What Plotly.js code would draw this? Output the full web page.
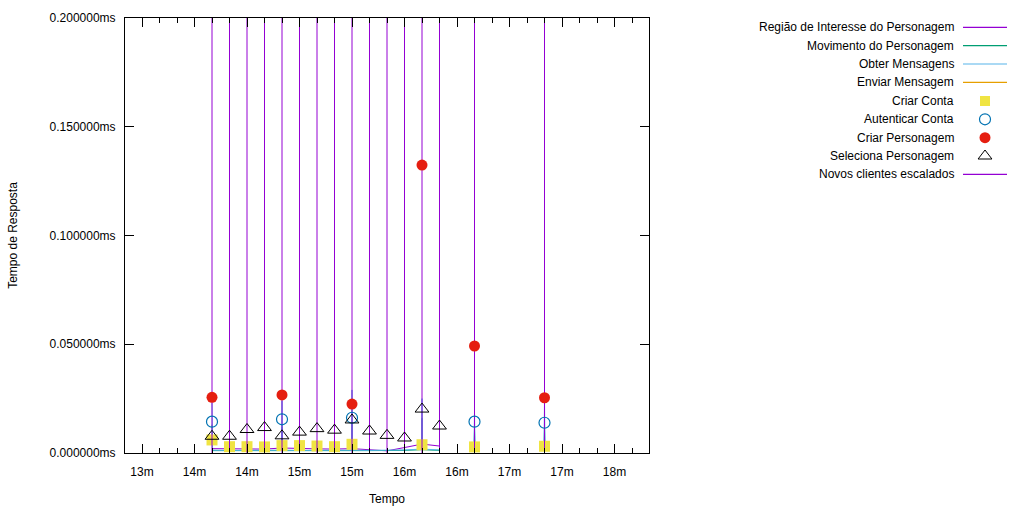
<!DOCTYPE html>
<html>
<head>
<meta charset="utf-8">
<script src="https://cdn.plot.ly/plotly-3.0.1.min.js"></script>
<style>html,body{margin:0;padding:0;background:#fff;}#chart{width:1024px;height:512px;}</style>
</head>
<body>
<div id="chart"></div>
<script>
// ---- Data (time in seconds after the "13m" tick; response time in ms) ----
const xTickVals = [0, 30, 60, 90, 120, 150, 180, 210, 240, 270];
const xTickText = ["13m", "14m", "14m", "15m", "15m", "16m", "16m", "17m", "17m", "18m"];
const yTickVals = [0, 0.05, 0.1, 0.15, 0.2];

const regiaoT = [40, 50, 60, 70, 80, 90, 100, 110, 120, 130, 140, 150, 160, 170];
const regiaoV = [0.0020, 0.0019, 0.0019, 0.0018, 0.0023, 0.0020, 0.0019, 0.0018, 0.0020, 0.0015, 0.0010, 0.0025, 0.0041, 0.0032];

const movimentoT = [40, 40.3, 50, 60, 70, 79.7, 80, 80.3, 90, 100, 110, 119.7, 120, 120.3, 130, 140, 150, 159.7, 160, 160.3, 170, null, 189.7, 190, 190.3, null, 229.7, 230, 230.3];
const movimentoV = [0.0130, 0.0011, 0.0011, 0.0011, 0.0011, 0.0011, 0.0120, 0.0011, 0.0011, 0.0011, 0.0011, 0.0011, 0.0140, 0.0011, 0.0011, 0.0011, 0.0012, 0.0015, 0.0160, 0.0015, 0.0012, null, 0.0010, 0.0110, 0.0010, null, 0.0010, 0.0120, 0.0010];

const obterT = [40, 40.3, 50, 60, 70, 79.7, 80, 80.3, 90, 100, 110, 119.7, 120, 120.3, 130, 140, 150, 159.7, 160, 160.3, 170, null, 189.7, 190, 190.3, null, 229.7, 230, 230.3];
const obterV = [0.0230, 0.0013, 0.0012, 0.0012, 0.0012, 0.0013, 0.0240, 0.0013, 0.0012, 0.0012, 0.0012, 0.0013, 0.0290, 0.0013, 0.0012, 0.0012, 0.0014, 0.0018, 0.0250, 0.0018, 0.0014, null, 0.0010, 0.0190, 0.0010, null, 0.0010, 0.0236, 0.0010];

const enviarT = [];
const enviarV = [];

const criarContaT = [40, 50, 60, 70, 80, 90, 100, 110, 120, 160, 190, 230];
const criarContaV = [0.0060, 0.0029, 0.0029, 0.0028, 0.0034, 0.0034, 0.0032, 0.0029, 0.0040, 0.0038, 0.0028, 0.0031];

const autenticarT = [40, 80, 120, 190, 230];
const autenticarV = [0.0144, 0.0155, 0.0162, 0.0144, 0.0139];

const criarPersT = [40, 80, 120, 160, 190, 230];
const criarPersV = [0.0256, 0.0267, 0.0225, 0.1324, 0.0492, 0.0254];

const selecionaT = [40, 50, 60, 70, 80, 90, 100, 110, 120, 130, 140, 150, 160, 170];
const selecionaV = [0.0077, 0.0077, 0.0108, 0.0117, 0.0079, 0.0096, 0.0112, 0.0105, 0.0152, 0.0101, 0.0081, 0.0069, 0.0202, 0.0124];

const novosClientesT = [40, 50, 60, 70, 80, 90, 100, 110, 120, 130, 140, 150, 160, 170, 190, 230];

const seriesNames = ["Região de Interesse do Personagem", "Movimento do Personagem", "Obter Mensagens", "Enviar Mensagem",
  "Criar Conta", "Autenticar Conta", "Criar Personagem", "Seleciona Personagem", "Novos clientes escalados"];

// ---- Styles ----
const C = {
  regiao: "#9400d3", mov: "#009e73", obter: "#56b4e9", enviar: "#e69f00",
  conta: "#f0e442", autent: "#0072b2", pers: "#e51e10", selec: "#000000", novos: "#9400d3"
};
const FONT = "Liberation Sans, Arial, sans-serif";
const YMAX = 0.2;

// vertical impulse lines
const vx = [], vy = [];
novosClientesT.forEach(t => { vx.push(t, t, null); vy.push(0, YMAX, null); });

const traces = [
  {x: regiaoT, y: regiaoV, mode: "lines", line: {color: C.regiao, width: 1}, name: seriesNames[0]},
  {x: movimentoT, y: movimentoV, mode: "lines", line: {color: C.mov, width: 1}, name: seriesNames[1]},
  {x: obterT, y: obterV, mode: "lines", line: {color: C.obter, width: 1}, name: seriesNames[2]},
  {x: enviarT, y: enviarV, mode: "lines", line: {color: C.enviar, width: 1}, name: seriesNames[3]},
  {x: criarContaT, y: criarContaV, mode: "markers", marker: {symbol: "square", size: 11, color: C.conta}, name: seriesNames[4]},
  {x: vx, y: vy, mode: "lines", line: {color: C.novos, width: 1}, name: seriesNames[8]},
  {x: autenticarT, y: autenticarV, mode: "markers", marker: {symbol: "circle-open", size: 11, color: C.autent, line: {width: 1.2}}, name: seriesNames[5]},
  {x: criarPersT, y: criarPersV, mode: "markers", marker: {symbol: "circle", size: 11, color: C.pers}, name: seriesNames[6]},
  {x: selecionaT, y: selecionaV, mode: "markers", marker: {symbol: "triangle-up-open", size: 12, color: C.selec, line: {width: 1}}, name: seriesNames[7]}
].map(t => Object.assign(t, {showlegend: false, xaxis: "x", yaxis: "y", cliponaxis: true, hoverinfo: "skip"}));

// ---- Custom legend (text right-aligned, sample on the right), in a pixel-mapped helper axis ----
const legY = [27.3, 45.7, 64, 82.3, 101, 119.3, 137.7, 156, 174.3];
const sampleKinds = [
  {type: "line", color: C.regiao}, {type: "line", color: C.mov}, {type: "line", color: C.obter}, {type: "line", color: C.enviar},
  {type: "marker", symbol: "square", size: 10, color: C.conta},
  {type: "marker", symbol: "circle-open", size: 11, color: C.autent, lw: 1.2},
  {type: "marker", symbol: "circle", size: 11, color: C.pers},
  {type: "marker", symbol: "triangle-up-open", size: 12, color: C.selec, lw: 1},
  {type: "line", color: C.novos}
];
const annotations = [];
sampleKinds.forEach((s, i) => {
  if (s.type === "line") {
    traces.push({x: [963, 1007], y: [legY[i], legY[i]], mode: "lines", line: {color: s.color, width: 1.2},
      xaxis: "x2", yaxis: "y2", showlegend: false, hoverinfo: "skip"});
  } else {
    traces.push({x: [985], y: [legY[i]], mode: "markers",
      marker: {symbol: s.symbol, size: s.size, color: s.color, line: {width: s.lw || 0}},
      xaxis: "x2", yaxis: "y2", showlegend: false, hoverinfo: "skip"});
  }
  annotations.push({xref: "x2", yref: "y2", x: 956, y: legY[i], text: seriesNames[i], showarrow: false,
    xanchor: "right", yanchor: "middle", font: {family: FONT, size: 12, color: "#000"}});
});

const W = 1024, H = 512, ML = 125, MR = 0, MT = 18, MB = 59;
const PW = W - ML - MR, PH = H - MT - MB;
const plotRight = 649;
const pxPerSec = 1.75;

const layout = {
  width: W, height: H,
  margin: {l: ML, r: MR, t: MT, b: MB, pad: 0},
  paper_bgcolor: "#fff", plot_bgcolor: "#fff",
  font: {family: FONT, size: 12, color: "#000"},
  showlegend: false,
  xaxis: {
    domain: [0, (plotRight - ML) / PW],
    range: [-(142 - ML) / pxPerSec, (plotRight - 142) / pxPerSec],
    tickmode: "array", tickvals: xTickVals, ticktext: xTickText,
    ticks: "inside", ticklen: 9, tickwidth: 1, tickcolor: "#000",
    minor: {ticks: "inside", dtick: 10, tick0: 0, ticklen: 5, tickwidth: 1, tickcolor: "#000"},
    showline: true, linecolor: "#000", linewidth: 1, mirror: "ticks",
    showgrid: false, zeroline: false,
    tickfont: {family: FONT, size: 12},
    ticklabelstandoff: 8,
    title: {text: "Tempo", font: {family: FONT, size: 12}, standoff: 16}
  },
  yaxis: {
    domain: [0, 1],
    range: [0, YMAX],
    tickmode: "array", tickvals: yTickVals,
    ticktext: yTickVals.map(v => v.toFixed(6) + "ms"),
    ticks: "inside", ticklen: 9, tickwidth: 1, tickcolor: "#000",
    showline: true, linecolor: "#000", linewidth: 1, mirror: "ticks",
    showgrid: false, zeroline: false,
    tickfont: {family: FONT, size: 12},
    ticklabelstandoff: 6,
    title: {text: "Tempo de Resposta", font: {family: FONT, size: 12}, standoff: 29}
  },
  xaxis2: {domain: [(934 - ML) / PW, 1], range: [934, 1024], visible: false, fixedrange: true, anchor: "y2"},
  yaxis2: {domain: [(H - MB - 192) / PH, 1], range: [192, 18], visible: false, fixedrange: true, anchor: "x2"},
  annotations: annotations
};

Plotly.newPlot("chart", traces, layout, {staticPlot: true, displayModeBar: false});
</script>
</body>
</html>
